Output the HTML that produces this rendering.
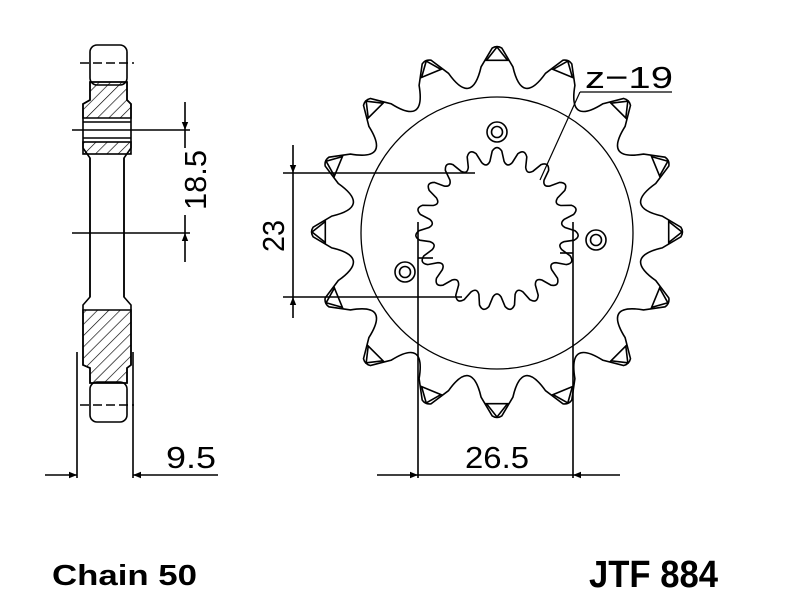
<!DOCTYPE html>
<html><head><meta charset="utf-8"><style>
html,body{margin:0;padding:0;background:#fff;width:800px;height:600px;overflow:hidden}
svg{display:block}
text{font-family:"Liberation Sans",sans-serif}
</style></head><body>
<svg id="s" width="800" height="600" viewBox="0 0 800 600" xmlns="http://www.w3.org/2000/svg">
<defs>
<pattern id="h" width="8" height="8" patternUnits="userSpaceOnUse" patternTransform="rotate(45)">
<line x1="0" y1="0" x2="0" y2="8" stroke="#000" stroke-width="1.3"/>
</pattern>
<marker id="a" viewBox="0 0 10 10" refX="10" refY="5" markerWidth="12" markerHeight="8" orient="auto-start-reverse" markerUnits="userSpaceOnUse"><path d="M0,1 L10,5 L0,9 z" fill="#000"/></marker>
</defs>
<g fill="none" stroke="#000" stroke-width="1.6">
<rect x="90" y="45" width="37" height="40" rx="7"/>
<line x1="80" y1="63" x2="134" y2="63" stroke-dasharray="9,4"/>
<rect x="90" y="382" width="37" height="40" rx="7"/>
<line x1="80" y1="405" x2="134" y2="405" stroke-dasharray="9,4"/>
<path d="M90,82 L127,82 L127,100 L131,104 L131,148 L124,158 L124,297 L131,305 L131,365 L127,368 L127,383 L90,383 L90,368 L83,365 L83,305 L90,297 L90,158 L83,148 L83,104 L90,100 Z"/>
<path d="M90,82 L127,82 L127,100 L131,104 L131,118 L83,118 L83,104 L90,100 Z" fill="url(#h)"/>
<rect x="83" y="142" width="48" height="12" fill="url(#h)"/>
<line x1="83" y1="122" x2="131" y2="122"/>
<line x1="83" y1="138" x2="131" y2="138"/>
<path d="M83,310 L131,310 L131,365 L127,368 L127,383 L90,383 L90,368 L83,365 Z" fill="url(#h)"/>
<line x1="90" y1="158" x2="90" y2="297"/>
<line x1="124" y1="158" x2="124" y2="297"/>
<line x1="72" y1="130" x2="190" y2="130"/>
<line x1="72" y1="233" x2="190" y2="233"/>
<line x1="185" y1="102" x2="185" y2="130" marker-end="url(#a)"/>
<line x1="185" y1="262" x2="185" y2="233" marker-end="url(#a)"/>
<line x1="185" y1="130" x2="185" y2="148"/>
<line x1="185" y1="215" x2="185" y2="233"/>
<line x1="77" y1="352" x2="77" y2="478"/>
<line x1="133" y1="352" x2="133" y2="478"/>
<line x1="45" y1="475" x2="77" y2="475" marker-end="url(#a)"/>
<line x1="218" y1="475" x2="133" y2="475" marker-end="url(#a)"/>
<path id="outer"/>
<g id="tips"></g>
<circle cx="497" cy="233" r="136" stroke-width="1.3"/>
<path id="spl"/>
<circle cx="497" cy="132" r="10"/><circle cx="497" cy="132" r="5.5"/>
<circle cx="596" cy="240" r="10"/><circle cx="596" cy="240" r="5.5"/>
<circle cx="405" cy="272" r="10"/><circle cx="405" cy="272" r="5.5"/>
<line x1="283" y1="173" x2="475" y2="173"/>
<line x1="283" y1="297" x2="462" y2="297"/>
<line x1="293" y1="145" x2="293" y2="173" marker-end="url(#a)"/>
<line x1="293" y1="318" x2="293" y2="297" marker-end="url(#a)"/>
<line x1="293" y1="173" x2="293" y2="297"/>
<line x1="418" y1="222" x2="418" y2="478"/>
<line x1="573" y1="222" x2="573" y2="478"/>
<line x1="418" y1="258" x2="433" y2="258"/>
<line x1="560" y1="253" x2="573" y2="253"/>
<line x1="377" y1="475" x2="418" y2="475" marker-end="url(#a)"/>
<line x1="620" y1="475" x2="573" y2="475" marker-end="url(#a)"/>
<line x1="418" y1="475" x2="573" y2="475"/>
<line x1="580" y1="92" x2="672" y2="92" stroke-width="1.3"/>
<line x1="580" y1="92" x2="540" y2="180" stroke-width="1.2"/>
</g>
<g font-size="31" fill="#000">
<text x="0" y="0" transform="translate(206,180) rotate(-90)" text-anchor="middle" textLength="60" lengthAdjust="spacingAndGlyphs">18.5</text>
<text x="166" y="468" textLength="50" lengthAdjust="spacingAndGlyphs">9.5</text>
<text x="0" y="0" transform="translate(284,236) rotate(-90)" text-anchor="middle" textLength="32" lengthAdjust="spacingAndGlyphs">23</text>
<text x="465" y="468" textLength="64" lengthAdjust="spacingAndGlyphs">26.5</text>
<text x="585" y="88" textLength="88" lengthAdjust="spacingAndGlyphs">z−19</text>
</g>
<text x="52" y="585" font-size="29" font-weight="bold" textLength="145" lengthAdjust="spacingAndGlyphs">Chain 50</text>
<text x="589" y="587" font-size="38" font-weight="bold" textLength="129" lengthAdjust="spacingAndGlyphs">JTF 884</text>
</svg>
<script>
(function(){
var cx=497,cy=232,N=16,d="",t="";
function P(r,a){a=a*Math.PI/180;return [(cx+r*Math.sin(a)).toFixed(1),(cy-r*Math.cos(a)).toFixed(1)];}
var s=360/N;
for(var k=0;k<N;k++){
 var th=k*s;
 var tip=P(187,th),f1=P(166,th+5.5),f2=P(166,th+s-5.5),c=P(128,th+s/2),a1=P(172,th-3.5),a2=P(172,th+3.5),t1=P(184,th-1.5),t2=P(184,th+1.5);
 if(k==0){var f0=P(166,th-5.5);d+="M"+f0+" ";}
 d+="L"+t1+" Q"+tip+" "+t2+" L"+f1+" Q"+c+" "+f2+" ";
 var tp=P(185,th);
 t+='<path d="M'+a1+' L'+tp+' L'+a2+' Z"/>';
}
d+="Z";
document.getElementById("outer").setAttribute("d",d);
document.getElementById("tips").innerHTML=t;
var M=19,ss=360/M,e="",cy2=229;
function Q(r,a){a=a*Math.PI/180;return [(cx+r*Math.sin(a)).toFixed(1),(cy2-r*Math.cos(a)).toFixed(1)];}
for(var j=0;j<M;j++){
 var b=j*ss;
 e+=(j==0?"M"+Q(68,b-6):"")+" L"+Q(78,b-3.5)+" Q"+Q(85,b)+" "+Q(78,b+3.5)+" L"+Q(68,b+6)+" Q"+Q(62,b+ss/2)+" "+Q(68,b+ss-6);
}
e+="Z";
document.getElementById("spl").setAttribute("d",e);
})();
</script>
</body></html>
